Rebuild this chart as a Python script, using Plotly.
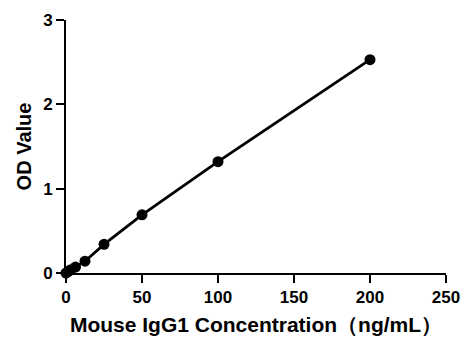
import plotly.graph_objects as go

# Standard curve: Mouse IgG1 concentration vs optical density
concentration = [0, 1.5625, 3.125, 6.25, 12.5, 25, 50, 100, 200]
od_value = [0.0, 0.02, 0.04, 0.07, 0.14, 0.34, 0.69, 1.32, 2.53]

x_ticks = [0, 50, 100, 150, 200, 250]
y_ticks = [0, 1, 2, 3]

font_family = "Liberation Sans, Arial, sans-serif"

fig = go.Figure(
    go.Scatter(
        x=concentration,
        y=od_value,
        mode="lines+markers",
        line=dict(color="black", width=2.8),
        marker=dict(color="black", size=11),
        cliponaxis=False,
        showlegend=False,
    )
)

axis_common = dict(
    showgrid=False,
    zeroline=False,
    showline=True,
    linecolor="black",
    linewidth=2,
    ticks="outside",
    ticklen=8,
    tickwidth=2,
    tickcolor="black",
    tickfont=dict(family=font_family, size=17, color="black", weight="bold"),
)

fig.update_xaxes(
    range=[0, 250],
    tickvals=x_ticks,
    title=dict(
        text="Mouse IgG1 Concentration（ng/mL）",
        font=dict(family=font_family, size=21, color="black", weight="bold"),
        standoff=11,
    ),
    **axis_common,
)
fig.update_yaxes(
    range=[0, 3],
    tickvals=y_ticks,
    title=dict(
        text="OD Value",
        font=dict(family=font_family, size=20, color="black", weight="bold"),
        standoff=6,
    ),
    **axis_common,
)

fig.update_layout(
    width=473,
    height=350,
    margin=dict(l=66, r=27, t=20, b=77),
    plot_bgcolor="white",
    paper_bgcolor="white",
)

fig.write_html("out.html")
